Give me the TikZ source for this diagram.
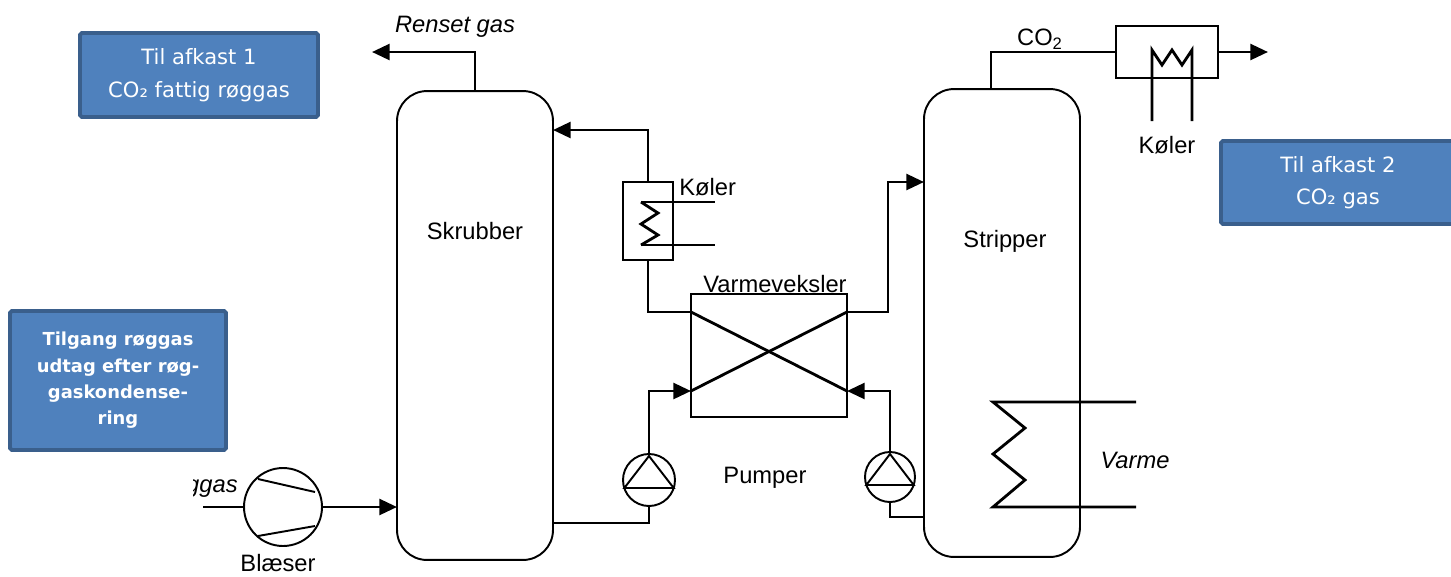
\documentclass[tikz,border=0pt]{standalone}
\usepackage{fontspec}
\setmainfont{Liberation Sans}
\newfontfamily\boxfont{DejaVu Sans}
\usetikzlibrary{arrows.meta,calc}
\definecolor{boxfill}{RGB}{79,129,189}
\definecolor{boxedge}{RGB}{58,95,140}
\begin{document}
\begin{tikzpicture}[x=0.02cm,y=-0.02cm,
 flow/.style={line width=1.6pt},
 arr/.style={flow,-{Triangle[length=10pt,width=9pt]}},
 thin/.style={line width=1.1pt},
 col/.style={draw,thin,rounded corners=0.6cm,minimum width=3.12cm,inner sep=0},
 lbl/.style={font=\fontsize{13.5}{16}\selectfont,inner sep=0},
 ilbl/.style={font=\fontsize{13.5}{16}\selectfont\itshape,inner sep=0},
 infobox/.style={draw=boxedge,fill=boxfill,line width=2.2pt,text=white,align=center,inner sep=0,rounded corners=1pt},
 pump/.style={circle,draw,thin,inner sep=0},
]
\useasboundingbox (0,0) rectangle (1451,576);

% info boxes
\node[infobox,minimum width=4.76cm,minimum height=1.68cm,font=\boxfont\fontsize{12}{18.5}\selectfont] (info1) at (199,75) {Til afkast 1\\CO₂ fattig røggas};
\node[infobox,minimum width=4.68cm,minimum height=1.66cm,font=\boxfont\fontsize{12}{18.5}\selectfont] (info2) at (1338,182.5) {Til afkast 2\\CO₂ gas};
\node[infobox,minimum width=4.32cm,minimum height=2.78cm,font=\boxfont\bfseries\fontsize{10.2}{15}\selectfont] (info3) at (118,380.5) {Tilgang røggas\\udtag efter røg-\\gaskondense-\\ring};

% columns
\node[col,minimum height=9.38cm] (skr) at (475,325.5) {};
\node[lbl] (skrl) at (475,231) {Skrubber};
\node[col,minimum height=9.36cm] (str) at (1002,323) {};
\node[lbl] (strl) at (1005,241) {Stripper};

% coordinates
\coordinate (rg) at (372,52);
\coordinate (skrin) at (553,130);
\coordinate (skrout) at (553,523);
\coordinate (skrbl) at (397,507);
\coordinate (gasin) at (203,507);
\coordinate (hxLT) at (691,312);
\coordinate (hxRT) at (847,312);
\coordinate (hxLB) at (691,391);
\coordinate (hxRB) at (847,391);
\coordinate (strin) at (924,182);
\coordinate (strout) at (924,517);
\coordinate (strtop) at (991,89);
\coordinate (co2out) at (1268,52);

% small cooler
\node[draw,flow,minimum width=1cm,minimum height=1.56cm,inner sep=0] (kol1) at (648,221) {};
\draw[flow] (641,202) -- (715,202);
\draw[flow] (641,245) -- (715,245);
\draw[flow] (641,202) -- (658,213) -- (641,224) -- (658,235) -- (641,245);
\node[lbl,anchor=west] (kol1l) at (679,187) {Køler};

% heat exchanger
\node[draw,flow,minimum width=3.12cm,minimum height=2.46cm,inner sep=0] (hx) at (769,355.5) {};
\draw[flow] (hxLT) -- (hxRB);
\draw[flow] (hxLB) -- (hxRT);
\node[lbl] (hxl) at (775,284) {Varmeveksler};

% pumps
\node[pump,minimum size=1.04cm] (p1) at (649,480) {};
\draw[thin] (p1.center) ++(-24.7,8) -- ++(49.4,0) -- (649,456) -- cycle;
\node[pump,minimum size=1.0cm] (p2) at (890,477) {};
\draw[thin] (p2.center) ++(-23.7,8) -- ++(47.4,0) -- (890,454) -- cycle;
\node[lbl] (pl) at (765,478) {Pumper};

% blower
\node[pump,minimum size=1.56cm] (bl) at (283,507) {};
\draw[thin] (258,479) -- (315,492);
\draw[thin] (258,536) -- (315,526);
\node[lbl] (bll) at (278,563) {Blæser};
\begin{scope}
\clip (193,465) rectangle (250,505);
\node[ilbl,anchor=east] (rgl) at (238,488) {røggas};
\end{scope}

% CO2 cooler
\node[draw,flow,minimum width=2.04cm,minimum height=1.04cm,inner sep=0] (kol2) at (1167,52) {};
\draw[flow] (1152,121) -- (1152,50) -- (1162,65) -- (1172,50) -- (1182,65) -- (1192,50) -- (1192,121);
\node[lbl] (kol2l) at (1167,145) {Køler};
\node[lbl] (co2l) at (1040,39) {CO\textsubscript{2}};

% stripper heater
\draw[flow] (1136,402) -- (993,402) -- (1025,428) -- (993,454) -- (1025,480) -- (993,507) -- (1136,507);
\node[ilbl] (varl) at (1135,460) {Varme};

% flows
\draw[arr] (skr.north) |- (rg);
\node[ilbl] (rgtxt) at (455,27) {Renset gas};
\draw[arr] (kol1.north) |- (skrin);
\draw[flow] (kol1.south) |- (hxLT);
\draw[arr] (hxRT) -- ++(41,0) |- (strin);
\draw[arr] (p1.north) |- (hxLB);
\draw[flow] (p1.south) |- (skrout);
\draw[arr] (p2.north) |- (hxRB);
\draw[flow] (p2.south) |- (strout);
\draw[flow] (gasin) -- (bl.west);
\draw[arr] (bl.east) -- (skrbl);
\draw[flow] (strtop) |- (kol2.west);
\draw[arr] (kol2.east) -- (co2out);
\end{tikzpicture}
\end{document}
